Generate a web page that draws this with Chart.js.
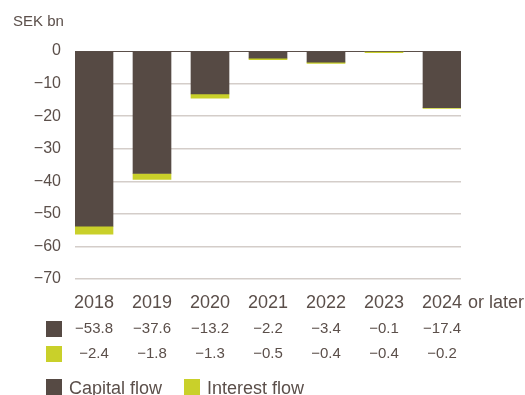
<!DOCTYPE html>
<html>
<head>
<meta charset="utf-8">
<script src="https://cdn.jsdelivr.net/npm/chart.js@4"></script>
<style>
  html, body { margin: 0; padding: 0; background: #fff; }
  #wrap { width: 525px; height: 395px; position: relative; }
</style>
</head>
<body>
<div id="wrap"><canvas id="chart"></canvas></div>
<script>
// Data
const years = ['2018', '2019', '2020', '2021', '2022', '2023', '2024'];
const capitalFlow = [-53.8, -37.6, -13.2, -2.2, -3.4, -0.1, -17.4];
const interestFlow = [-2.4, -1.8, -1.3, -0.5, -0.4, -0.4, -0.2];
const seriesNames = ['Capital flow', 'Interest flow'];
const yTicks = [0, -10, -20, -30, -40, -50, -60, -70];

const TEXT = '#5b4f4a';
const CAPITAL = '#564a44';
const INTEREST = '#c9d02a';
const FONT = '"Liberation Sans", Arial, sans-serif';

const fmt = v => (v < 0 ? '\u2212' : '') + Math.abs(v).toFixed(1);
const half = 38 / 58 / 2;

// Draws the year labels, value table, unit label and legend
const tablePlugin = {
    id: 'table',
    afterDraw(chart) {
        const ctx = chart.ctx;
        const x = chart.scales.x;
        ctx.save();
        ctx.fillStyle = TEXT;
        ctx.textBaseline = 'middle';

        ctx.font = '15px ' + FONT;
        ctx.textAlign = 'left';
        ctx.fillText('SEK bn', 13, 22);

        ctx.font = '18px ' + FONT;
        ctx.textAlign = 'center';
        years.forEach((y, i) => ctx.fillText(y, x.getPixelForValue(i), 303));
        ctx.textAlign = 'left';
        ctx.fillText('or later', x.getPixelForValue(6) + 26, 303);

        ctx.font = '15px ' + FONT;
        ctx.textAlign = 'center';
        capitalFlow.forEach((v, i) => ctx.fillText(fmt(v), x.getPixelForValue(i), 329));
        interestFlow.forEach((v, i) => ctx.fillText(fmt(v), x.getPixelForValue(i), 354));

        ctx.fillStyle = CAPITAL;
        ctx.fillRect(46, 321, 16, 16);
        ctx.fillStyle = INTEREST;
        ctx.fillRect(46, 346, 16, 16);

        // legend
        ctx.fillStyle = CAPITAL;
        ctx.fillRect(46, 379, 16, 16);
        ctx.fillStyle = INTEREST;
        ctx.fillRect(184, 379, 16, 16);
        ctx.fillStyle = TEXT;
        ctx.font = '18px ' + FONT;
        ctx.textAlign = 'left';
        ctx.fillText(seriesNames[0], 69, 389);
        ctx.fillText(seriesNames[1], 207, 389);
        ctx.restore();
    }
};

new Chart(document.getElementById('chart'), {
    type: 'bar',
    data: {
        datasets: [{
            label: seriesNames[0],
            data: capitalFlow.map((v, i) => ({ x: i, y: v })),
            backgroundColor: CAPITAL,
            barThickness: 38
        }, {
            label: seriesNames[1],
            data: interestFlow.map((v, i) => ({ x: i, y: v })),
            backgroundColor: INTEREST,
            barThickness: 38
        }]
    },
    options: {
        responsive: true,
        maintainAspectRatio: false,
        animation: false,
        layout: { padding: { top: 51, bottom: 116, left: 0, right: 64 } },
        plugins: {
            legend: { display: false },
            tooltip: { enabled: false }
        },
        scales: {
            x: {
                type: 'linear',
                stacked: true,
                display: false,
                offset: false,
                grid: { offset: false },
                min: -half,
                max: 6 + half
            },
            y: {
                stacked: true,
                min: -70,
                max: 0,
                afterFit(scale) { scale.width = 75; },
                afterBuildTicks(scale) { scale.ticks = yTicks.map(v => ({ value: v })); },
                border: { display: false },
                grid: {
                    drawTicks: false,
                    color: c => c.tick && c.tick.value === 0 ? TEXT : '#d4cdc9',
                    lineWidth: c => c.tick && c.tick.value === 0 ? 1 : 1.5
                },
                ticks: {
                    padding: 14,
                    color: TEXT,
                    font: { family: FONT, size: 16 },
                    callback: v => v === 0 ? '0' : '\u2212' + Math.abs(v)
                }
            }
        }
    },
    plugins: [tablePlugin]
});
</script>
</body>
</html>
